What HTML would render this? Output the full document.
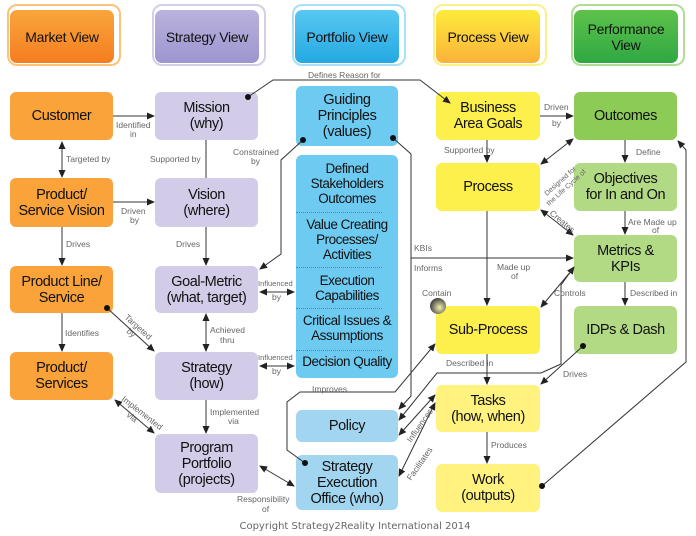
<!DOCTYPE html>
<html><head><meta charset="utf-8"><style>
body{margin:0;background:#fff;width:696px;height:536px;overflow:hidden;position:relative;font-family:"Liberation Sans",Arial,sans-serif}
.n{position:absolute;border-radius:6px;display:flex;align-items:center;justify-content:center;text-align:center;font-size:14.5px;letter-spacing:-0.4px;line-height:16px;color:#111;box-sizing:border-box;white-space:nowrap}
.h{position:absolute;border-radius:7px;display:flex;align-items:center;justify-content:center;text-align:center;font-size:14px;letter-spacing:-0.3px;line-height:16px;color:#111;top:10px;height:53px;width:104px}
.hf{position:absolute;top:4px;height:58px;width:110px;border-radius:10px;border:2px solid}
.o{background:#f9a33a}.p{background:#d2cce8}.b{background:#6dcaf0}.b2{background:#a2d6f0}.y{background:#fdef4c}.y2{background:#fff27f}.g{background:#8ccb55}.g2{background:#b2da84}
svg{position:absolute;left:0;top:0}
.l{font-size:8.5px;fill:#666}
.bx{position:absolute;left:296px;top:155px;width:102px;height:223px;background:#6dcaf0;border-radius:6px}
.bx div{position:absolute;left:0;width:102px;text-align:center;font-size:13.5px;letter-spacing:-0.5px;line-height:15px;color:#111;white-space:nowrap}
.dl{position:absolute;left:8px;width:86px !important;border-top:1px dotted #3a8fb8}
</style></head><body>
<div class="hf" style="left:7px;border-color:#fbc27a"></div><div class="h" style="left:10px;background:linear-gradient(#f9a63c,#f57d1f)">Market View</div>
<div class="hf" style="left:152px;border-color:#d3cfe8"></div><div class="h" style="left:155px;background:linear-gradient(#b9b3de,#9d95cf)">Strategy View</div>
<div class="hf" style="left:292px;border-color:#a9e0f6"></div><div class="h" style="left:295px;background:linear-gradient(#58c8f2,#24a8e2)">Portfolio View</div>
<div class="hf" style="left:433px;border-color:#fbf18c"></div><div class="h" style="left:436px;background:linear-gradient(#fdeb3a,#fbb23a)">Process View</div>
<div class="hf" style="left:571px;border-color:#b2dd96"></div><div class="h" style="left:574px;background:linear-gradient(#5ec24a,#2fa844)">Performance<br>View</div>

<div class="n o" style="left:10px;top:92px;width:103px;height:48px">Customer</div>
<div class="n o" style="left:10px;top:178px;width:103px;height:49px">Product/<br>Service Vision</div>
<div class="n o" style="left:10px;top:266px;width:103px;height:47px">Product Line/<br>Service</div>
<div class="n o" style="left:10px;top:352px;width:103px;height:48px">Product/<br>Services</div>
<div class="n p" style="left:155px;top:92px;width:103px;height:48px">Mission<br>(why)</div>
<div class="n p" style="left:155px;top:178px;width:103px;height:49px">Vision<br>(where)</div>
<div class="n p" style="left:155px;top:266px;width:103px;height:47px">Goal-Metric<br>(what, target)</div>
<div class="n p" style="left:155px;top:352px;width:103px;height:48px">Strategy<br>(how)</div>
<div class="n p" style="left:155px;top:434px;width:103px;height:59px">Program<br>Portfolio<br>(projects)</div>
<div class="n b" style="left:296px;top:86px;width:102px;height:60px">Guiding<br>Principles<br>(values)</div>
<div class="bx">
<div style="top:6px">Defined<br>Stakeholders<br>Outcomes</div>
<div class="dl" style="top:57px"></div>
<div style="top:62px">Value Creating<br>Processes/<br>Activities</div>
<div class="dl" style="top:112px"></div>
<div style="top:118px">Execution<br>Capabilities</div>
<div class="dl" style="top:153px"></div>
<div style="top:158px">Critical Issues &amp;<br>Assumptions</div>
<div class="dl" style="top:195px"></div>
<div style="top:199px">Decision Quality</div>
</div>
<div class="n b2" style="left:296px;top:410px;width:102px;height:32px">Policy</div>
<div class="n b2" style="left:296px;top:455px;width:102px;height:55px">Strategy<br>Execution<br>Office (who)</div>
<div class="n y" style="left:436px;top:92px;width:104px;height:48px">Business<br>Area Goals</div>
<div class="n y" style="left:436px;top:163px;width:104px;height:48px">Process</div>
<div class="n y" style="left:436px;top:306px;width:104px;height:48px">Sub-Process</div>
<div class="n y2" style="left:436px;top:385px;width:104px;height:47px">Tasks<br>(how, when)</div>
<div class="n y2" style="left:436px;top:464px;width:104px;height:48px">Work<br>(outputs)</div>
<div class="n g" style="left:574px;top:92px;width:103px;height:48px">Outcomes</div>
<div class="n g2" style="left:574px;top:163px;width:103px;height:48px">Objectives<br>for In and On</div>
<div class="n g2" style="left:574px;top:235px;width:103px;height:47px">Metrics &amp;<br>KPIs</div>
<div class="n g2" style="left:574px;top:306px;width:103px;height:48px">IDPs &amp; Dash</div>

<svg width="696" height="536" viewBox="0 0 696 536">
<defs>
<marker id="a" markerWidth="8" markerHeight="8" refX="7" refY="4" orient="auto" markerUnits="userSpaceOnUse"><path d="M0,0.5 L8,4 L0,7.5z" fill="#222"/></marker>
<marker id="s" markerWidth="8" markerHeight="8" refX="1" refY="4" orient="auto" markerUnits="userSpaceOnUse"><path d="M8,0.5 L0,4 L8,7.5z" fill="#222"/></marker>
<radialGradient id="sp" cx="0.6" cy="0.6" r="0.6"><stop offset="0" stop-color="#f4efb0"/><stop offset="1" stop-color="#444"/></radialGradient>
</defs>
<g stroke="#333" stroke-width="1" fill="none">
<line x1="113" y1="116" x2="154" y2="116" marker-end="url(#a)"/>
<line x1="62" y1="142" x2="62" y2="177" marker-start="url(#s)" marker-end="url(#a)"/>
<line x1="113" y1="202" x2="154" y2="202" marker-end="url(#a)"/>
<line x1="62" y1="227" x2="62" y2="265" marker-end="url(#a)"/>
<line x1="62" y1="313" x2="62" y2="351" marker-end="url(#a)"/>
<line x1="206" y1="140" x2="206" y2="178"/>
<line x1="206" y1="227" x2="206" y2="265" marker-end="url(#a)"/>
<polyline points="248,97 273,80 420,80 450,103" marker-end="url(#a)"/>
<polyline points="303,140 281,160 281,254 260,269" marker-end="url(#a)"/>
<polyline points="393,138 411,154 411,396 399,409" marker-end="url(#a)"/>
<line x1="411" y1="258" x2="573" y2="258" marker-end="url(#a)"/>
<polyline points="305,463 287,450 287,402 300,392 395,392 435,344" marker-end="url(#a)"/>
<polyline points="574,267 561,285 561,364 541,373 437,373 399,420" marker-end="url(#a)" marker-start="url(#s)"/>
<line x1="541" y1="307" x2="572" y2="270" marker-start="url(#s)"/>
<line x1="435" y1="395" x2="399" y2="435" marker-start="url(#s)" marker-end="url(#a)"/>
<line x1="435" y1="403" x2="399" y2="476" marker-start="url(#s)" marker-end="url(#a)"/>
<line x1="583" y1="346" x2="541" y2="384" marker-end="url(#a)"/>
<polyline points="542,486 686,362 686,150 678,141" marker-end="url(#a)"/>
<line x1="540" y1="116" x2="573" y2="116" marker-end="url(#a)"/>
<line x1="487" y1="140" x2="487" y2="162" marker-end="url(#a)"/>
<line x1="625" y1="140" x2="625" y2="162" marker-end="url(#a)"/>
<line x1="573" y1="139" x2="541" y2="164" marker-start="url(#s)" marker-end="url(#a)"/>
<line x1="541" y1="210" x2="573" y2="235" marker-start="url(#s)" marker-end="url(#a)"/>
<line x1="625" y1="211" x2="625" y2="234" marker-end="url(#a)"/>
<line x1="625" y1="282" x2="625" y2="305" marker-end="url(#a)"/>
<line x1="487" y1="211" x2="487" y2="305" marker-end="url(#a)"/>
<line x1="487" y1="354" x2="487" y2="384" marker-end="url(#a)"/>
<line x1="487" y1="432" x2="487" y2="463" marker-end="url(#a)"/>
<line x1="107" y1="308" x2="154" y2="351" marker-end="url(#a)"/>
<line x1="206" y1="314" x2="206" y2="351" marker-start="url(#s)" marker-end="url(#a)"/>
<line x1="260" y1="292" x2="294" y2="292" marker-start="url(#s)" marker-end="url(#a)"/>
<line x1="260" y1="366" x2="294" y2="366" marker-start="url(#s)" marker-end="url(#a)"/>
<line x1="206" y1="400" x2="206" y2="433" marker-end="url(#a)"/>
<line x1="115" y1="400" x2="154" y2="433" marker-start="url(#s)" marker-end="url(#a)"/>
<line x1="260" y1="466" x2="294" y2="486" marker-start="url(#s)" marker-end="url(#a)"/>
</g>
<g fill="#111">
<circle cx="248" cy="97" r="3"/><circle cx="303" cy="140" r="3"/><circle cx="393" cy="138" r="3"/>
<circle cx="305" cy="463" r="3"/><circle cx="583" cy="346" r="3"/><circle cx="542" cy="486" r="3"/><circle cx="107" cy="308" r="3"/>
</g>
<circle cx="438" cy="306" r="8" fill="url(#sp)"/>
<g class="l">
<text x="116" y="128">Identified</text><text x="130" y="137">in</text>
<text x="66" y="162">Targeted by</text>
<text x="121" y="214">Driven</text><text x="130" y="223">by</text>
<text x="66" y="247">Drives</text>
<text x="150" y="162">Supported by</text>
<text x="176" y="247">Drives</text>
<text x="65" y="336">Identifies</text>
<text x="308" y="78">Defines Reason for</text>
<text x="233" y="155">Constrained</text><text x="251" y="164">by</text>
<text x="258" y="286" font-size="7.5">Influenced</text><text x="272" y="300">by</text>
<text x="258" y="360" font-size="7.5">Influenced</text><text x="272" y="374">by</text>
<text x="210" y="333">Achieved</text><text x="220" y="343">thru</text>
<text x="210" y="415">Implemented</text><text x="228" y="424">via</text>
<text x="237" y="502">Responsibility</text><text x="262" y="512">of</text>
<text x="312" y="392">Improves</text>
<text x="414" y="251">KBIs</text><text x="414" y="271">Informs</text>
<text x="422" y="296">Contain</text>
<text x="497" y="270">Made up</text><text x="511" y="279">of</text>
<text x="444" y="153">Supported by</text>
<text x="544" y="110">Driven</text><text x="552" y="126">by</text>
<text x="636" y="155">Define</text>
<text x="628" y="225">Are Made up</text><text x="652" y="233">of</text>
<text x="630" y="296">Described in</text>
<text x="554" y="296">Controls</text>
<text x="446" y="366">Described in</text>
<text x="563" y="377">Drives</text>
<text x="491" y="448">Produces</text>
<text transform="translate(124,318) rotate(42)">Targeted</text><text transform="translate(126,332) rotate(42)">by</text>
<text transform="translate(121,400) rotate(38)">Implemented</text><text transform="translate(126,416) rotate(38)">via</text>
<text transform="translate(547,196) rotate(-42)" font-size="7">Designed for</text><text transform="translate(549,206) rotate(-42)" font-size="7">the Life Cycle of</text>
<text transform="translate(549,214) rotate(40)">Creates</text>
<text transform="translate(411,443) rotate(-55)">Influences</text>
<text transform="translate(411,481) rotate(-55)">Facilitates</text>
</g>
<text x="355" y="529" text-anchor="middle" font-size="10" fill="#666" font-family="DejaVu Sans, sans-serif">Copyright Strategy2Reality International 2014</text>
</svg>
</body></html>
